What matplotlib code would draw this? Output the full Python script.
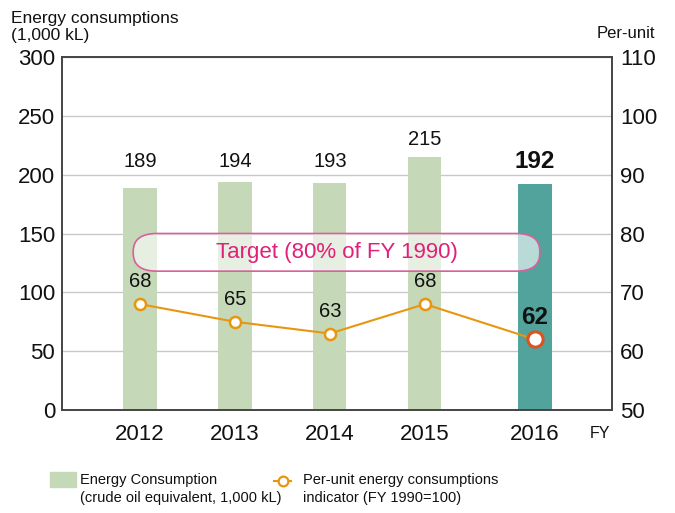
import numpy as np
import matplotlib.pyplot as plt
from matplotlib.patches import FancyBboxPatch, Rectangle
from matplotlib.lines import Line2D

plt.rcParams['font.family'] = ['Liberation Sans', 'DejaVu Sans']

years = ['2012', '2013', '2014', '2015', '2016']
energy = [189, 194, 193, 215, 192]          # 1,000 kL
per_unit = [68, 65, 63, 68, 62]              # FY1990 = 100
target = 80

xpos = np.array([0, 1, 2, 3, 4.16])  # last year drawn a bit further right
bar_colors = ['#c5d9b8'] * 4 + ['#52a39c']

fig = plt.figure(figsize=(6.75, 5.13), dpi=100)
ax = fig.add_axes([62 / 675, 1 - 410 / 513, 550 / 675, 353 / 513])
ax2 = ax.twinx()

ax.bar(xpos, energy, width=0.35, color=bar_colors, zorder=2)
ax.set_ylim(0, 300)
ax.set_xlim(-0.82, 4.97)
ax.set_yticks(range(0, 301, 50))
ax.grid(axis='y', color='#c8c8c8', lw=1, zorder=0)
ax.set_xticks(xpos)
ax.set_xticklabels(years)
ax.tick_params(axis='y', length=0, labelsize=16, colors='#111111', pad=5)
ax.tick_params(axis='x', length=0, labelsize=16, colors='#111111', pad=10)
for sp in ax.spines.values():
    sp.set_color('#444444')
    sp.set_linewidth(1.2)

# value labels sit level unless the bar is taller
for i, (x, v) in enumerate(zip(xpos, energy)):
    last = i == len(energy) - 1
    ax.text(x, max(v, 196) + 15, str(v), ha='center', va='center',
            fontsize=17.5 if last else 14.5,
            fontweight='bold' if last else 'normal', color='#111111', zorder=5)

# target box
ax2.set_ylim(50, 110)
box = FancyBboxPatch((-0.07, 73.6), 4.28, 6.4,
                     boxstyle='round,pad=0,rounding_size=0.25', mutation_aspect=12,
                     facecolor='white', alpha=0.6, edgecolor='none', zorder=3)
ax2.add_patch(box)
edge = FancyBboxPatch((-0.07, 73.6), 4.28, 6.4,
                      boxstyle='round,pad=0,rounding_size=0.25', mutation_aspect=12,
                      facecolor='none', edgecolor='#d9609a', lw=1.2, zorder=3)
ax2.add_patch(edge)
ax2.text(2.07, 76.8, 'Target (80% of FY 1990)', ha='center', va='center',
         fontsize=16, color='#e0207a', zorder=4)

ax2.plot(xpos, per_unit, color='#e8960f', lw=1.5, zorder=4)
ax2.plot(xpos[:-1], per_unit[:-1], 'o', ms=8, mfc='white', mec='#e8960f', mew=1.8, zorder=5)
ax2.plot(xpos[-1:], per_unit[-1:], 'o', ms=11, mfc='white', mec='#d9541e', mew=2.2, zorder=5)
for i, (x, v) in enumerate(zip(xpos, per_unit)):
    last = i == len(per_unit) - 1
    ax2.annotate(str(v), (x, v), xytext=(0, 16), textcoords='offset points',
                 ha='center', va='center', fontsize=17.5 if last else 14.5,
                 fontweight='bold' if last else 'normal', color='#111111', zorder=6)

ax2.set_yticks(range(50, 111, 10))
ax2.tick_params(length=0, labelsize=16, colors='#111111', pad=6)
for sp in ax2.spines.values():
    sp.set_color('#444444')
    sp.set_linewidth(1.2)

fig.text(11 / 675, 1 - 27 / 513, 'Energy consumptions\n(1,000 kL)', ha='left', va='center',
         fontsize=12.5, color='#111111', linespacing=1.1)
fig.text(597 / 675, 1 - 33 / 513, 'Per-unit', ha='left', va='center', fontsize=12, color='#111111')
fig.text(590 / 675, 1 - 434 / 513, 'FY', ha='left', va='center', fontsize=11.5, color='#111111')

# legend
fig.patches.append(Rectangle((50 / 675, 1 - 487 / 513), 26 / 675, 15 / 513,
                             transform=fig.transFigure, color='#c5d9b8'))
fig.text(80 / 675, 1 - 489 / 513, 'Energy Consumption\n(crude oil equivalent, 1,000 kL)',
         ha='left', va='center', fontsize=10.5, color='#111111', linespacing=1.35)
fig.lines.append(Line2D([274 / 675, 291 / 675], [1 - 481 / 513] * 2, transform=fig.transFigure,
                        color='#e8960f', lw=1.5))
fig.lines.append(Line2D([282.5 / 675], [1 - 481 / 513], transform=fig.transFigure, marker='o',
                        ms=7, mfc='white', mec='#e8960f', mew=1.6))
fig.text(303 / 675, 1 - 489 / 513, 'Per-unit energy consumptions\nindicator (FY 1990=100)',
         ha='left', va='center', fontsize=10.5, color='#111111', linespacing=1.35)

fig.savefig('out.png', dpi=100)
